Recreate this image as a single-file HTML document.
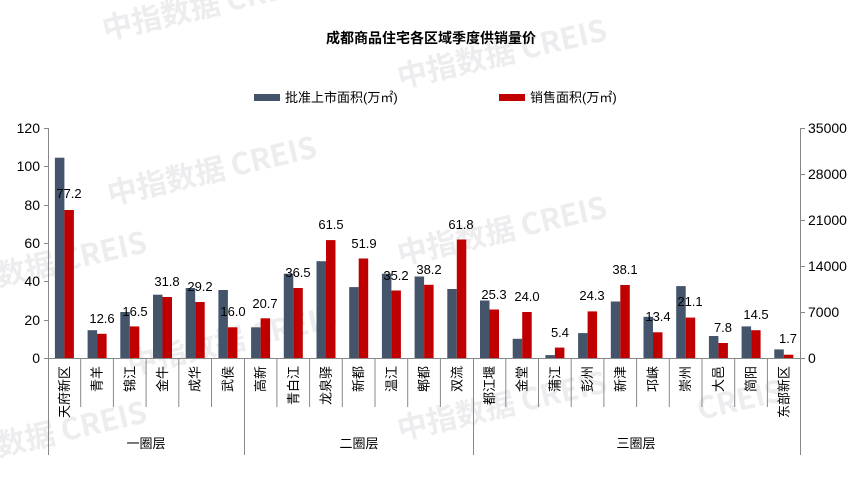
<!DOCTYPE html>
<html><head><meta charset="utf-8"><style>
html,body{margin:0;padding:0;background:#fff;}
svg{display:block;font-family:"Liberation Sans","Noto Sans CJK SC",sans-serif;}
</style></head><body>
<svg width="863" height="483" viewBox="0 0 863 483" xmlns="http://www.w3.org/2000/svg">
<g fill="#ededef" font-weight="bold" font-size="30" font-family="'Noto Sans CJK SC',sans-serif">
<text transform="translate(105,40) rotate(-13)">中指数据 CREIS</text>
<text transform="translate(400,88) rotate(-13)">中指数据 CREIS</text>
<text transform="translate(110,205) rotate(-13)">中指数据 CREIS</text>
<text transform="translate(-60,300) rotate(-13)">中指数据 CREIS</text>
<text transform="translate(400,265) rotate(-13)">中指数据 CREIS</text>
<text transform="translate(130,375) rotate(-13)">中指数据 CREIS</text>
<text transform="translate(400,440) rotate(-13)">中指数据 CREIS</text>
<text transform="translate(-60,470) rotate(-13)">中指数据 CREIS</text>
<text transform="translate(700,420) rotate(-13)">CREIS</text>
</g>
<text x="431" y="43" text-anchor="middle" font-size="14" font-weight="bold" fill="#000">成都商品住宅各区域季度供销量价</text>
<rect x="254" y="94" width="26" height="7" fill="#44546a"/>
<text x="285" y="102" font-size="13">批准上市面积(万㎡)</text>
<rect x="499" y="94" width="26" height="7" fill="#c00000"/>
<text x="530" y="102" font-size="13">销售面积(万㎡)</text>
<g stroke="#888" stroke-width="1" fill="none">
<line x1="48.5" y1="128" x2="48.5" y2="455"/>
<line x1="800.5" y1="128" x2="800.5" y2="455"/>
<line x1="48" y1="358.5" x2="800" y2="358.5"/>
<path d="M44 128.5H48M44 166.5H48M44 205.5H48M44 243.5H48M44 281.5H48M44 320.5H48M44 358.5H48"/>
<path d="M800 128.5H805M800 174.5H805M800 220.5H805M800 266.5H805M800 312.5H805M800 358.5H805"/>
<path d="M80.7 358V407M113.4 358V407M146.1 358V407M178.8 358V407M211.5 358V407M244.5 358V455M276.9 358V407M309.6 358V407M342.3 358V407M375 358V407M407.7 358V407M440.4 358V407M473.5 358V455M505.8 358V407M538.5 358V407M571.2 358V407M603.9 358V407M636.6 358V407M669.3 358V407M702 358V407M734.7 358V407M767.4 358V407"/>
</g>
<g font-size="14" text-anchor="end" fill="#000">
<text x="40" y="133">120</text><text x="40" y="171">100</text><text x="40" y="210">80</text><text x="40" y="248">60</text><text x="40" y="286">40</text><text x="40" y="325">20</text><text x="40" y="363">0</text>
</g>
<g font-size="14" text-anchor="start" fill="#000">
<text x="808" y="133">35000</text><text x="808" y="179">28000</text><text x="808" y="225">21000</text><text x="808" y="271">14000</text><text x="808" y="317">7000</text><text x="808" y="363">0</text>
</g>
<g fill="#44546a">
<rect x="54.9" y="157.7" width="9.5" height="200.3"/>
<rect x="87.6" y="330.2" width="9.5" height="27.8"/>
<rect x="120.3" y="312" width="9.5" height="46"/>
<rect x="153" y="294.7" width="9.5" height="63.3"/>
<rect x="185.7" y="288" width="9.5" height="70"/>
<rect x="218.4" y="290" width="9.5" height="68"/>
<rect x="251.1" y="327.3" width="9.5" height="30.7"/>
<rect x="283.8" y="273.7" width="9.5" height="84.3"/>
<rect x="316.5" y="261.2" width="9.5" height="96.8"/>
<rect x="349.2" y="287.1" width="9.5" height="70.9"/>
<rect x="381.9" y="273.7" width="9.5" height="84.3"/>
<rect x="414.6" y="276.5" width="9.5" height="81.5"/>
<rect x="447.3" y="289" width="9.5" height="69"/>
<rect x="480" y="300.5" width="9.5" height="57.5"/>
<rect x="512.7" y="338.8" width="9.5" height="19.2"/>
<rect x="545.4" y="355.1" width="9.5" height="2.9"/>
<rect x="578.1" y="333.1" width="9.5" height="24.9"/>
<rect x="610.8" y="301.5" width="9.5" height="56.5"/>
<rect x="643.5" y="316.8" width="9.5" height="41.2"/>
<rect x="676.2" y="286.1" width="9.5" height="71.9"/>
<rect x="708.9" y="336" width="9.5" height="22"/>
<rect x="741.6" y="326.4" width="9.5" height="31.6"/>
<rect x="774.3" y="349.4" width="9.5" height="8.6"/>
</g>
<g fill="#c00000">
<rect x="64.4" y="210" width="9.5" height="148"/>
<rect x="97.1" y="333.8" width="9.5" height="24.2"/>
<rect x="129.8" y="326.4" width="9.5" height="31.6"/>
<rect x="162.5" y="297" width="9.5" height="61"/>
<rect x="195.2" y="302" width="9.5" height="56"/>
<rect x="227.9" y="327.3" width="9.5" height="30.7"/>
<rect x="260.6" y="318.3" width="9.5" height="39.7"/>
<rect x="293.3" y="288" width="9.5" height="70"/>
<rect x="326" y="240.1" width="9.5" height="117.9"/>
<rect x="358.7" y="258.5" width="9.5" height="99.5"/>
<rect x="391.4" y="290.5" width="9.5" height="67.5"/>
<rect x="424.1" y="284.8" width="9.5" height="73.2"/>
<rect x="456.8" y="239.5" width="9.5" height="118.5"/>
<rect x="489.5" y="309.5" width="9.5" height="48.5"/>
<rect x="522.2" y="312" width="9.5" height="46"/>
<rect x="554.9" y="347.6" width="9.5" height="10.4"/>
<rect x="587.6" y="311.4" width="9.5" height="46.6"/>
<rect x="620.3" y="285" width="9.5" height="73"/>
<rect x="653" y="332.3" width="9.5" height="25.7"/>
<rect x="685.7" y="317.6" width="9.5" height="40.4"/>
<rect x="718.4" y="343" width="9.5" height="15"/>
<rect x="751.1" y="330.2" width="9.5" height="27.8"/>
<rect x="783.8" y="354.7" width="9.5" height="3.3"/>
</g>
<g font-size="13" text-anchor="middle" fill="#000">
<text x="69" y="198">77.2</text>
<text x="102" y="323">12.6</text>
<text x="135" y="316">16.5</text>
<text x="167" y="286">31.8</text>
<text x="200" y="291">29.2</text>
<text x="233" y="316">16.0</text>
<text x="265" y="308">20.7</text>
<text x="298" y="277">36.5</text>
<text x="331" y="229">61.5</text>
<text x="364" y="248">51.9</text>
<text x="396" y="280">35.2</text>
<text x="429" y="274">38.2</text>
<text x="461" y="229">61.8</text>
<text x="494" y="299">25.3</text>
<text x="527" y="301">24.0</text>
<text x="560" y="337">5.4</text>
<text x="592" y="300">24.3</text>
<text x="625" y="274">38.1</text>
<text x="658" y="321">13.4</text>
<text x="690" y="306">21.1</text>
<text x="723" y="332">7.8</text>
<text x="756" y="319">14.5</text>
<text x="788" y="343">1.7</text>
</g>
<g font-size="13" fill="#000" text-anchor="end">
<text transform="translate(69,366) rotate(-90)">天府新区</text>
<text transform="translate(101.6,366) rotate(-90)">青羊</text>
<text transform="translate(134.3,366) rotate(-90)">锦江</text>
<text transform="translate(167,366) rotate(-90)">金牛</text>
<text transform="translate(199.7,366) rotate(-90)">成华</text>
<text transform="translate(232.4,366) rotate(-90)">武侯</text>
<text transform="translate(265.1,366) rotate(-90)">高新</text>
<text transform="translate(297.8,366) rotate(-90)">青白江</text>
<text transform="translate(330.5,366) rotate(-90)">龙泉驿</text>
<text transform="translate(363.2,366) rotate(-90)">新都</text>
<text transform="translate(395.9,366) rotate(-90)">温江</text>
<text transform="translate(428.6,366) rotate(-90)">郫都</text>
<text transform="translate(461.3,366) rotate(-90)">双流</text>
<text transform="translate(494,366) rotate(-90)">都江堰</text>
<text transform="translate(526.7,366) rotate(-90)">金堂</text>
<text transform="translate(559.4,366) rotate(-90)">蒲江</text>
<text transform="translate(592.1,366) rotate(-90)">彭州</text>
<text transform="translate(624.8,366) rotate(-90)">新津</text>
<text transform="translate(657.5,366) rotate(-90)">邛崃</text>
<text transform="translate(690.2,366) rotate(-90)">崇州</text>
<text transform="translate(722.9,366) rotate(-90)">大邑</text>
<text transform="translate(755.6,366) rotate(-90)">简阳</text>
<text transform="translate(788.3,366) rotate(-90)">东部新区</text>
</g>
<g font-size="13" text-anchor="middle" fill="#000">
<text x="146" y="448">一圈层</text>
<text x="359" y="448">二圈层</text>
<text x="636" y="448">三圈层</text>
</g>
</svg>
</body></html>
